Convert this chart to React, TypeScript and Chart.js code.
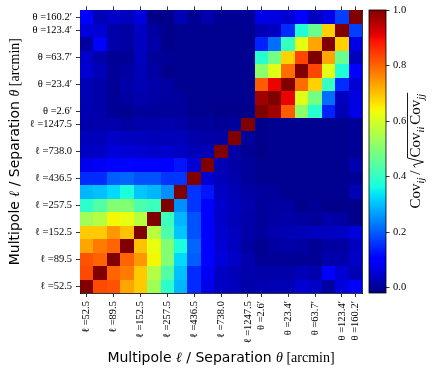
import React, { useEffect, useRef } from "react";
import { Chart, registerables } from "chart.js";

Chart.register(...registerables);

// ---- data ----
const binCount = 21; // 13 multipole bins + 8 angular bins
const tickIndex = [0, 2, 4, 6, 8, 10, 12, 13, 15, 17, 19, 20];
const tickLabels = [
  "ℓ =52.5", "ℓ =89.5", "ℓ =152.5", "ℓ =257.5", "ℓ =436.5", "ℓ =738.0", "ℓ =1247.5",
  "θ =2.6′", "θ =23.4′", "θ =63.7′", "θ =123.4′", "θ =160.2′",
];
const colorbarTicks = [0, 0.2, 0.4, 0.6, 0.8, 1.0];
const colorMin = -0.02;
const colorMax = 1.0;

// lower triangle of the (symmetric) correlation matrix, row i holds columns 0..i
const corrLower: number[][] = [
  [1.0],
  [0.83, 1.0],
  [0.82, 0.8, 1.0],
  [0.73, 0.775, 0.8, 1.0],
  [0.69, 0.69, 0.745, 0.7, 1.0],
  [0.535, 0.56, 0.64, 0.625, 0.565, 1.0],
  [0.39, 0.44, 0.5, 0.5, 0.43, 0.41, 1.0],
  [0.29, 0.3, 0.325, 0.37, 0.305, 0.29, 0.25, 1.0],
  [0.15, 0.15, 0.2, 0.21, 0.19, 0.19, 0.16, 0.16, 1.0],
  [0.075, 0.085, 0.11, 0.11, 0.105, 0.1, 0.09, 0.128, 0.055, 1.0],
  [0.04, 0.04, 0.06, 0.055, 0.05, 0.045, 0.048, 0.04, 0.03, 0.026, 1.0],
  [0.033, 0.03, 0.042, 0.037, 0.035, 0.03, 0.03, 0.03, 0.02, 0.015, 0.013, 1.0],
  [0.018, 0.02, 0.02, 0.01, 0.018, 0.018, 0.022, 0.015, 0.006, 0.005, 0.0, 0.005, 1.0],
  [0.024, 0.017, 0.0, -0.005, 0.008, 0.005, 0.003, 0.007, -0.005, -0.005, -0.01, -0.008, -0.01, 1.0],
  [0.026, 0.017, 0.0, 0.01, 0.02, 0.013, 0.01, 0.004, -0.005, -0.005, -0.005, -0.005, -0.005, 0.972, 1.0],
  [0.026, 0.017, 0.0, 0.017, 0.026, 0.017, 0.01, -0.005, -0.005, -0.005, -0.005, -0.005, -0.005, 0.81, 0.905, 1.0],
  [0.053, 0.03, 0.0, 0.01, 0.03, 0.01, -0.01, -0.005, -0.005, -0.005, -0.005, -0.005, -0.005, 0.51, 0.615, 0.79, 1.0],
  [0.044, 0.02, 0.0, 0.0, 0.035, 0.004, 0.0, -0.005, -0.005, -0.005, -0.005, -0.005, -0.005, 0.387, 0.48, 0.682, 0.833, 1.0],
  [0.01, 0.09, 0.017, 0.01, 0.035, 0.017, -0.01, -0.005, -0.005, -0.005, -0.005, -0.005, -0.005, 0.14, 0.218, 0.405, 0.62, 0.73, 1.0],
  [0.062, 0.053, 0.017, 0.01, 0.04, 0.01, -0.01, -0.005, -0.005, -0.005, -0.005, -0.005, -0.005, 0.026, 0.035, 0.15, 0.374, 0.467, 0.682, 1.0],
  [0.09, 0.026, 0.044, 0.035, 0.062, -0.01, -0.01, 0.026, 0.0, 0.02, 0.0, 0.0, 0.0, 0.07, 0.066, 0.053, 0.1, 0.035, 0.07, 0.17, 1.0],
];

// ---- helpers ----
const serifFamily = "'Liberation Serif', 'DejaVu Serif', serif";
const sansFamily = "'DejaVu Sans', sans-serif";

function interp(t: number, pts: number[][]): number {
  for (let k = 1; k < pts.length; k++) {
    if (t <= pts[k][0]) {
      const [x0, y0] = pts[k - 1];
      const [x1, y1] = pts[k];
      return y0 + ((y1 - y0) * (t - x0)) / (x1 - x0);
    }
  }
  return pts[pts.length - 1][1];
}

function jetColor(tIn: number): string {
  const t = Math.min(1, Math.max(0, tIn));
  const r = interp(t, [[0, 0], [0.35, 0], [0.66, 1], [0.89, 1], [1, 0.5]]);
  const g = interp(t, [[0, 0], [0.125, 0], [0.375, 1], [0.64, 1], [0.91, 0], [1, 0]]);
  const b = interp(t, [[0, 0.5], [0.11, 1], [0.34, 1], [0.65, 0], [1, 0]]);
  return `rgb(${Math.round(r * 255)},${Math.round(g * 255)},${Math.round(b * 255)})`;
}

function corrAt(i: number, j: number): number {
  return j <= i ? corrLower[i][j] : corrLower[j][i];
}

type Run = { text: string; font: string; dy?: number; gapAfter?: number };

function drawRuns(ctx: CanvasRenderingContext2D, runs: Run[], cx: number, baseY: number) {
  let total = 0;
  const widths = runs.map((r) => {
    ctx.font = r.font;
    const w = ctx.measureText(r.text).width + (r.gapAfter || 0);
    total += w;
    return w;
  });
  let x = cx - total / 2;
  ctx.textAlign = "left";
  ctx.textBaseline = "alphabetic";
  runs.forEach((r, k) => {
    ctx.font = r.font;
    ctx.fillText(r.text, x, baseY + (r.dy || 0));
    x += widths[k];
  });
}

const heatmapPlugin = {
  id: "heatmapCells",
  beforeDatasetsDraw(chart: any) {
    const { ctx } = chart;
    const xs = chart.scales.x;
    const ys = chart.scales.y;
    const cb = chart.scales.cb;
    const gap = chart.scales.y2;
    const pts = chart.data.datasets[0].data as { x: number; y: number; v: number }[];
    ctx.save();
    for (const p of pts) {
      const x0 = Math.round(xs.getPixelForValue(p.x - 0.5));
      const x1 = Math.round(xs.getPixelForValue(p.x + 0.5));
      const y0 = Math.round(ys.getPixelForValue(p.y + 0.5));
      const y1 = Math.round(ys.getPixelForValue(p.y - 0.5));
      ctx.fillStyle = jetColor((p.v - colorMin) / (colorMax - colorMin));
      ctx.fillRect(x0, y0, x1 - x0, y1 - y0);
    }
    // colour bar
    const left = Math.round(gap.left + 7);
    const right = Math.round(cb.left);
    const yb = Math.round(cb.getPixelForValue(colorMin));
    const yt = Math.round(cb.getPixelForValue(colorMax));
    const grad = ctx.createLinearGradient(0, yb, 0, yt);
    for (let k = 0; k <= 64; k++) grad.addColorStop(k / 64, jetColor(k / 64));
    ctx.fillStyle = grad;
    ctx.fillRect(left, yt, right - left, yb - yt);
    ctx.strokeStyle = "#000";
    ctx.lineWidth = 0.8;
    ctx.strokeRect(left, yt, right - left, yb - yt);
    ctx.restore();
  },
  afterDraw(chart: any) {
    const { ctx, chartArea } = chart;
    const size = 14;
    const runs: Run[] = [
      { text: "Multipole ", font: `${size}px ${sansFamily}` },
      { text: "ℓ", font: `italic ${size}px ${serifFamily}` },
      { text: " / Separation ", font: `${size}px ${sansFamily}` },
      { text: "θ", font: `italic ${size}px ${serifFamily}` },
      { text: " [arcmin]", font: `${size}px ${serifFamily}` },
    ];
    ctx.save();
    ctx.fillStyle = "#000";
    const cx = (chartArea.left + chartArea.right) / 2;
    const cy = (chartArea.top + chartArea.bottom) / 2;
    drawRuns(ctx, runs, cx, 362);
    ctx.save();
    ctx.translate(19, cy);
    ctx.rotate(-Math.PI / 2);
    drawRuns(ctx, runs, 0, 0);
    ctx.restore();

    // colour bar label: Cov_ij / sqrt(Cov_ii Cov_jj)
    ctx.save();
    ctx.translate(420, cy - 1);
    ctx.rotate(-Math.PI / 2);
    const main = `15px ${serifFamily}`;
    const sub = `italic 10.5px ${serifFamily}`;
    const measure = (t: string, f: string) => {
      ctx.font = f;
      return ctx.measureText(t).width;
    };
    const wCov = measure("Cov", main);
    const wij = measure("ij", sub);
    const wii = measure("ii", sub);
    const wjj = measure("jj", sub);
    const wSlash = measure("/", main);
    const radW = 10;
    const total = wCov + wij + 3 + wSlash + 3 + radW + wCov + wii + 2 + wCov + wjj + 1;
    let x = -total / 2;
    ctx.textBaseline = "alphabetic";
    ctx.textAlign = "left";
    ctx.font = main;
    ctx.fillText("Cov", x, 0);
    x += wCov;
    ctx.font = sub;
    ctx.fillText("ij", x, 3.5);
    x += wij + 3;
    ctx.font = main;
    ctx.fillText("/", x, 0);
    x += wSlash + 3;
    const radStart = x;
    x += radW;
    ctx.font = main;
    ctx.fillText("Cov", x, 0);
    x += wCov;
    ctx.font = sub;
    ctx.fillText("ii", x, 3.5);
    x += wii + 2;
    ctx.font = main;
    ctx.fillText("Cov", x, 0);
    x += wCov;
    ctx.font = sub;
    ctx.fillText("jj", x, 3.5);
    x += wjj + 1;
    ctx.strokeStyle = "#000";
    ctx.lineWidth = 0.9;
    ctx.beginPath();
    ctx.moveTo(radStart, -5);
    ctx.lineTo(radStart + 2.5, -6.5);
    ctx.lineTo(radStart + 5.5, 3.5);
    ctx.lineTo(radStart + 9.5, -12.5);
    ctx.lineTo(x, -12.5);
    ctx.stroke();
    ctx.restore();
    ctx.restore();
  },
};

const tickFont = { family: serifFamily, size: 10.5 };
const axisGrid = {
  display: true,
  drawOnChartArea: false,
  drawTicks: true,
  tickLength: 4,
  tickWidth: 0.8,
  tickColor: "#000",
  color: "#000",
};
const axisBorder = { display: true, color: "#000", width: 0.8 };
const setIndexTicks = (s: any) => {
  s.ticks = tickIndex.map((v) => ({ value: v }));
};

export default function App() {
  const canvasRef = useRef<HTMLCanvasElement | null>(null);

  useEffect(() => {
    const canvas = canvasRef.current;
    if (!canvas) return;
    const cells: { x: number; y: number; v: number }[] = [];
    for (let i = 0; i < binCount; i++) {
      for (let j = 0; j < binCount; j++) {
        cells.push({ x: j, y: i, v: corrAt(i, j) });
      }
    }
    const chart = new Chart(canvas, {
      type: "scatter",
      data: {
        datasets: [
          {
            data: cells as any,
            pointRadius: 0,
            pointHoverRadius: 0,
          },
        ],
      },
      options: {
        responsive: false,
        animation: false,
        devicePixelRatio: 1,
        events: [],
        layout: { padding: 0, autoPadding: false },
        plugins: { legend: { display: false }, tooltip: { enabled: false } },
        scales: {
          x: {
            type: "linear",
            position: "bottom",
            min: -0.5,
            max: binCount - 0.5,
            z: 1,
            afterBuildTicks: setIndexTicks,
            afterFit: (s: any) => {
              s.height = 81;
            },
            grid: axisGrid,
            border: axisBorder,
            ticks: {
              autoSkip: false,
              minRotation: 90,
              maxRotation: 90,
              padding: 4,
              color: "#000",
              font: tickFont,
              callback: (_v: any, i: number) => tickLabels[i],
            },
          },
          x2: {
            type: "linear",
            axis: "x",
            position: "top",
            min: -0.5,
            max: binCount - 0.5,
            z: 1,
            afterBuildTicks: setIndexTicks,
            afterFit: (s: any) => {
              s.height = 10;
            },
            grid: axisGrid,
            border: axisBorder,
            ticks: { display: false },
          },
          y: {
            type: "linear",
            position: "left",
            min: -0.5,
            max: binCount - 0.5,
            z: 1,
            afterBuildTicks: setIndexTicks,
            afterFit: (s: any) => {
              s.width = 80;
            },
            grid: axisGrid,
            border: axisBorder,
            ticks: {
              autoSkip: false,
              padding: 4,
              color: "#000",
              font: tickFont,
              callback: (_v: any, i: number) => tickLabels[i],
            },
          },
          y2: {
            type: "linear",
            axis: "y",
            position: "right",
            weight: 0,
            min: -0.5,
            max: binCount - 0.5,
            z: 1,
            afterFit: (s: any) => {
              s.width = 24;
            },
            grid: { display: true, drawOnChartArea: false, drawTicks: false },
            border: axisBorder,
            ticks: { display: false },
          },
          cb: {
            type: "linear",
            axis: "y",
            position: "right",
            weight: 1,
            min: colorMin,
            max: colorMax,
            z: 1,
            afterBuildTicks: (s: any) => {
              s.ticks = colorbarTicks.map((v) => ({ value: v }));
            },
            afterFit: (s: any) => {
              s.width = 50;
            },
            grid: { ...axisGrid, tickLength: 3.5 },
            border: { display: false },
            ticks: {
              autoSkip: false,
              padding: 3.5,
              color: "#000",
              font: tickFont,
              callback: (v: any) => Number(v).toFixed(1),
            },
          },
        } as any,
      },
      plugins: [heatmapPlugin],
    });
    return () => chart.destroy();
  }, []);

  return (
    <div style={{ position: "absolute", left: 0, top: 0, width: 436, height: 374, background: "#fff" }}>
      <canvas ref={canvasRef} width={436} height={374} style={{ display: "block", width: 436, height: 374 }} />
    </div>
  );
}
